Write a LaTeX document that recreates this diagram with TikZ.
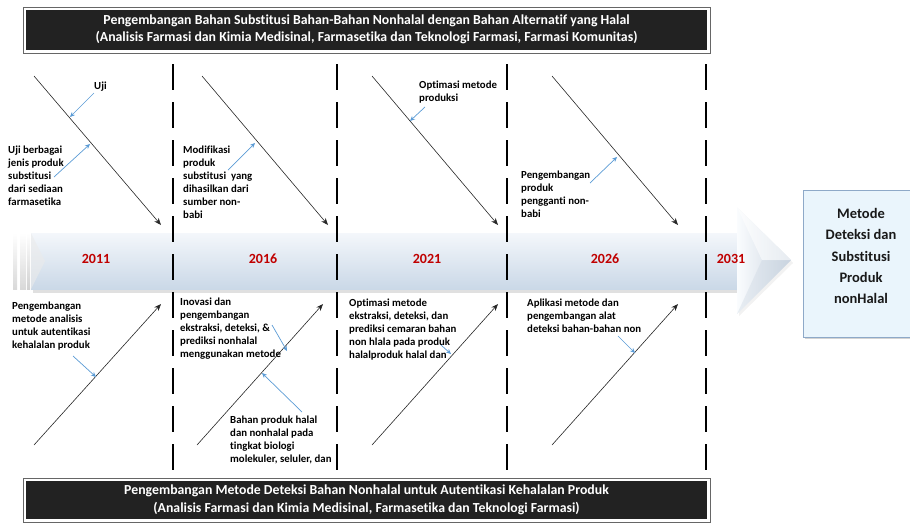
\documentclass[tikz,border=0pt]{standalone}
\usepackage{fontspec}
\setmainfont{Carlito}[Ligatures=NoCommon]
\usetikzlibrary{arrows.meta,shadows}
\definecolor{callblue}{HTML}{5B9BD5}
\definecolor{yearred}{HTML}{C00000}
\definecolor{banfill}{HTML}{222222}
\definecolor{boxfill}{HTML}{EAF5FC}
\definecolor{boxline}{HTML}{8EA9C8}
\definecolor{artop}{HTML}{F4F7FB}
\definecolor{armid}{HTML}{DAE5F1}
\definecolor{arbot}{HTML}{CAD8E7}
\definecolor{headl}{HTML}{FAFCFE}
\definecolor{headr}{HTML}{C9D4E0}
\begin{document}
\begin{tikzpicture}[x=1pt,y=-1pt,
  lbl/.style={anchor=north west, inner sep=0pt, align=left, font=\bfseries\fontsize{10.8}{13}\selectfont, text=black},
  diag/.style={-{Stealth[length=7pt,width=5.5pt]}, line width=0.6pt, black!85},
  call/.style={-{Stealth[length=5pt,width=4.5pt]}, line width=0.7pt, callblue},
  sepline/.style={line width=1.3pt, black, dash pattern=on 26pt off 12pt},
  year/.style={font=\bfseries\fontsize{14}{16}\selectfont, text=yearred},
  bantext/.style={text=white, align=center, font=\bfseries\fontsize{13.8}{17.5}\selectfont}]
\useasboundingbox (0,0) rectangle (910,525);

% top banner
\draw[black!60, fill=white, drop shadow={shadow xshift=1pt, shadow yshift=-1pt, opacity=0.3}] (23,7) rectangle (710,53);
\fill[banfill] (26,10) rectangle (707,50);
\node (toptitle) [bantext] at (366.5,29.5) {Pengembangan Bahan Substitusi Bahan-Bahan Nonhalal dengan Bahan Alternatif yang Halal\\(Analisis Farmasi dan Kimia Medisinal, Farmasetika dan Teknologi Farmasi, Farmasi Komunitas)};

% bottom banner
\draw[black!60, fill=white, drop shadow={shadow xshift=1pt, shadow yshift=-1pt, opacity=0.3}] (23,478) rectangle (710,522);
\fill[banfill] (26,481) rectangle (707,519);
\node (bottitle) [bantext] at (366.5,500) {Pengembangan Metode Deteksi Bahan Nonhalal untuk Autentikasi Kehalalan Produk\\(Analisis Farmasi dan Kimia Medisinal, Farmasetika dan Teknologi Farmasi)};

% big arrow
\fill[black!12] (33,290) rectangle (739,293);
\shade[top color=white, bottom color=black!15] (13,233) rectangle (17,289);
\shade[top color=white, bottom color=black!15] (20,233) rectangle (26,289);
\shade[top color=white, bottom color=black!18] (27,233) rectangle (30,289);
\shade[top color=artop, middle color=armid, bottom color=arbot] (31,233) rectangle (738,289);
\fill[black!8, opacity=0.6] (31,233) -- (45,261) -- (31,289) -- cycle;
\fill[black!10, opacity=0.5] (739,209) -- (793,263) -- (739,316) -- cycle;
\shade[left color=headl, right color=headr] (737,207) -- (791,260) -- (737,314) -- cycle;
\fill[white, opacity=0.55] (737,207) -- (791,260) -- (762,260) -- cycle;
\fill[headr, opacity=0.35] (737,314) -- (791,260) -- (762,260) -- cycle;

% separators
\foreach \xx [count=\i] in {173,337,507,706}
  \draw[sepline] (\xx,64) coordinate (s\i a) -- (\xx,470) coordinate (s\i b);

% years
\node (y1) [year] at (96,259) {2011};
\node (y2) [year] at (263,259) {2016};
\node (y3) [year] at (427,259) {2021};
\node (y4) [year] at (605,259) {2026};
\node (y5) [year] at (731,259) {2031};

% goal box
\node (goal) [draw=boxline, line width=0.8pt, fill=boxfill, minimum width=108, minimum height=147, anchor=north west, inner sep=0pt,
  drop shadow={shadow xshift=1.5pt, shadow yshift=-1.5pt, opacity=0.35}] at (803,190) {};
\node (goaltext) [align=center, font=\bfseries\fontsize{14.5}{21.3}\selectfont, text=black!90] at (861,256) {Metode\\Deteksi dan\\Substitusi\\Produk\\nonHalal};

% top diagonal arrows
\coordinate (t1s) at (34,76);  \coordinate (t1e) at (161,225);
\coordinate (t2s) at (202,76); \coordinate (t2e) at (328,225);
\coordinate (t3s) at (372,76); \coordinate (t3e) at (498,225);
\coordinate (t4s) at (552,76); \coordinate (t4e) at (678,225);
\foreach \i in {1,...,4} \draw[diag] (t\i s) -- (t\i e);

% bottom diagonal arrows
\coordinate (b1s) at (34,445);  \coordinate (b1e) at (161,304);
\coordinate (b2s) at (197,445); \coordinate (b2e) at (323,304);
\coordinate (b3s) at (372,445); \coordinate (b3e) at (498,304);
\coordinate (b4s) at (552,445); \coordinate (b4e) at (678,304);
\foreach \i in {1,...,4} \draw[diag] (b\i s) -- (b\i e);

% top labels
\node (l1) [lbl] at (94,82) {Uji};
\coordinate (l1s) at (94,93); \coordinate (l1t) at (70,117);
\draw[call] (l1s) -- (l1t);
\node (l2) [lbl] at (8,146) {Uji berbagai\\jenis produk\\substitusi\\dari sediaan\\farmasetika};
\coordinate (l2s) at (54,177); \coordinate (l2t) at (90,144);
\draw[call] (l2s) -- (l2t);
\node (l3) [lbl] at (183,146) {Modifikasi\\produk\\substitusi~ yang\\dihasilkan dari\\sumber non-\\babi};
\coordinate (l3s) at (228,170); \coordinate (l3t) at (255,143);
\draw[call] (l3s) -- (l3t);
\node (l4) [lbl] at (419,81) {Optimasi metode\\produksi};
\coordinate (l4s) at (425,107); \coordinate (l4t) at (410,121);
\draw[call] (l4s) -- (l4t);
\node (l5) [lbl] at (521,171) {Pengembangan\\produk\\pengganti non-\\babi};
\coordinate (l5s) at (590,183); \coordinate (l5t) at (617,157);
\draw[call] (l5s) -- (l5t);

% bottom labels
\node (m1) [lbl] at (12,302) {Pengembangan\\metode analisis\\untuk autentikasi\\kehalalan produk};
\coordinate (m1s) at (73,356); \coordinate (m1t) at (96,377);
\draw[call] (m1s) -- (m1t);
\node (m2) [lbl] at (180,298) {Inovasi dan\\pengembangan\\ekstraksi, deteksi, \&\\prediksi nonhalal\\menggunakan metode};
\coordinate (m2s) at (272,325); \coordinate (m2t) at (287,351);
\draw[call] (m2s) -- (m2t);
\node (m3) [lbl] at (230,416) {Bahan produk halal\\dan nonhalal pada\\tingkat biologi\\molekuler, seluler, dan};
\coordinate (m3s) at (302,412); \coordinate (m3t) at (262,373);
\draw[call] (m3s) -- (m3t);
\node (m4) [lbl] at (349,299) {Optimasi metode\\ekstraksi, deteksi, dan\\prediksi cemaran bahan\\non hlala pada produk\\halalproduk halal dan};
\coordinate (m4s) at (441,345); \coordinate (m4t) at (451,354);
\draw[call] (m4s) -- (m4t);
\node (m5) [lbl] at (527,299) {Aplikasi metode dan\\pengembangan alat\\deteksi bahan-bahan non};
\coordinate (m5s) at (618,336); \coordinate (m5t) at (635,353);
\draw[call] (m5s) -- (m5t);
\end{tikzpicture}
\end{document}
